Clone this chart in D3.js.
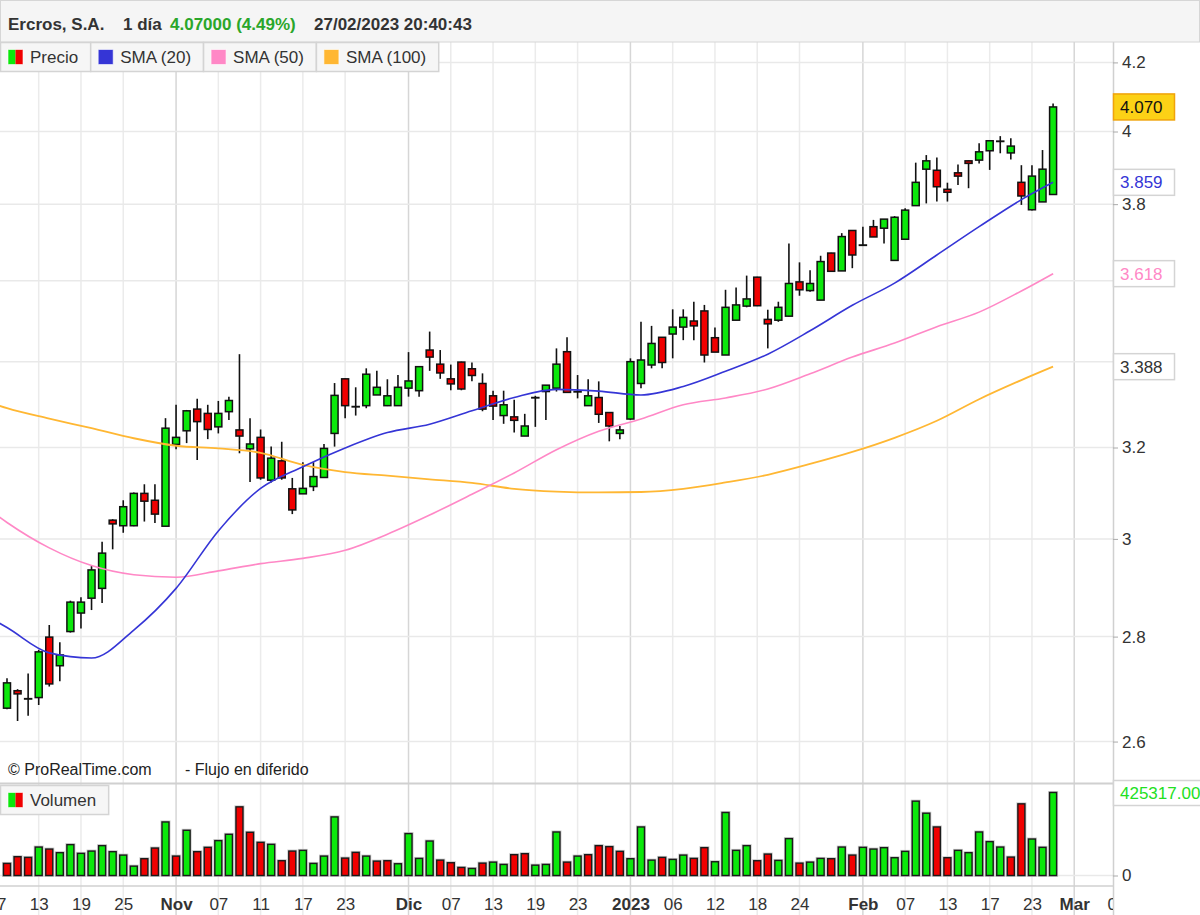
<!DOCTYPE html>
<html>
<head>
<meta charset="utf-8">
<script src="https://cdn.jsdelivr.net/npm/d3@7"></script>
<style>
  body { margin: 0; background: #fff; }
  svg { display: block; font-family: "Liberation Sans", Arial, sans-serif; }
</style>
</head>
<body>
<div id="chart"></div>
<script>
// trading days shown (Oct 10 2022 -> Feb 27 2023)
const dates = [
  "2022-10-10","2022-10-11","2022-10-12","2022-10-13","2022-10-14","2022-10-17","2022-10-18","2022-10-19","2022-10-20","2022-10-21",
  "2022-10-24","2022-10-25","2022-10-26","2022-10-27","2022-10-28","2022-10-31","2022-11-01","2022-11-02","2022-11-03","2022-11-04",
  "2022-11-07","2022-11-08","2022-11-09","2022-11-10","2022-11-11","2022-11-14","2022-11-15","2022-11-16","2022-11-17","2022-11-18",
  "2022-11-21","2022-11-22","2022-11-23","2022-11-24","2022-11-25","2022-11-28","2022-11-29","2022-11-30","2022-12-01","2022-12-02",
  "2022-12-05","2022-12-06","2022-12-07","2022-12-08","2022-12-09","2022-12-12","2022-12-13","2022-12-14","2022-12-15","2022-12-16",
  "2022-12-19","2022-12-20","2022-12-21","2022-12-22","2022-12-23","2022-12-27","2022-12-28","2022-12-29","2022-12-30","2023-01-02",
  "2023-01-03","2023-01-04","2023-01-05","2023-01-06","2023-01-09","2023-01-10","2023-01-11","2023-01-12","2023-01-13","2023-01-16",
  "2023-01-17","2023-01-18","2023-01-19","2023-01-20","2023-01-23","2023-01-24","2023-01-25","2023-01-26","2023-01-27","2023-01-30",
  "2023-01-31","2023-02-01","2023-02-02","2023-02-03","2023-02-06","2023-02-07","2023-02-08","2023-02-09","2023-02-10","2023-02-13",
  "2023-02-14","2023-02-15","2023-02-16","2023-02-17","2023-02-20","2023-02-21","2023-02-22","2023-02-23","2023-02-24","2023-02-27"
];

const open = [
  2.662,2.695,2.680,2.682,2.799,2.743,2.810,2.847,2.877,2.897,
  3.040,3.028,3.028,3.098,3.083,3.027,3.207,3.238,3.288,3.278,
  3.247,3.282,3.240,3.197,3.223,3.127,3.170,3.108,3.097,3.113,
  3.133,3.232,3.359,3.294,3.296,3.321,3.296,3.296,3.337,3.331,
  3.428,3.394,3.359,3.399,3.383,3.348,3.319,3.273,3.270,3.226,
  3.315,3.329,3.337,3.424,3.329,3.296,3.315,3.280,3.232,3.265,
  3.348,3.392,3.459,3.467,3.484,3.499,3.524,3.458,3.416,3.501,
  3.536,3.609,3.503,3.501,3.511,3.597,3.575,3.551,3.671,3.625,
  3.730,3.692,3.740,3.736,3.652,3.707,3.796,3.895,3.892,3.840,
  3.885,3.918,3.920,3.946,3.973,3.940,3.859,3.785,3.806,3.826
];
const high = [
  2.719,2.698,2.728,2.774,2.823,2.789,2.872,2.879,2.943,2.994,
  3.042,3.083,3.100,3.118,3.118,3.267,3.298,3.286,3.312,3.298,
  3.307,3.317,3.418,3.267,3.241,3.202,3.213,3.132,3.167,3.167,
  3.208,3.349,3.360,3.339,3.384,3.378,3.358,3.368,3.423,3.388,
  3.473,3.428,3.393,3.400,3.398,3.372,3.331,3.331,3.310,3.277,
  3.319,3.344,3.432,3.459,3.368,3.358,3.353,3.281,3.249,3.408,
  3.497,3.487,3.460,3.528,3.528,3.547,3.539,3.483,3.577,3.583,
  3.613,3.610,3.527,3.547,3.696,3.647,3.627,3.664,3.672,3.723,
  3.731,3.740,3.758,3.760,3.768,3.789,3.913,3.934,3.927,3.858,
  3.908,3.919,3.967,3.976,3.987,3.981,3.906,3.906,3.948,4.080
];
const low = [
  2.660,2.638,2.648,2.668,2.703,2.713,2.808,2.816,2.853,2.867,
  2.978,3.013,3.027,3.037,3.034,3.027,3.196,3.210,3.172,3.219,
  3.232,3.263,3.187,3.123,3.128,3.122,3.128,3.053,3.097,3.103,
  3.132,3.202,3.267,3.273,3.290,3.321,3.295,3.295,3.317,3.317,
  3.378,3.359,3.332,3.332,3.353,3.283,3.263,3.254,3.234,3.226,
  3.247,3.263,3.329,3.327,3.313,3.295,3.256,3.214,3.219,3.263,
  3.337,3.384,3.384,3.408,3.452,3.452,3.398,3.423,3.416,3.501,
  3.533,3.536,3.432,3.497,3.510,3.562,3.572,3.551,3.622,3.625,
  3.632,3.692,3.713,3.696,3.652,3.707,3.796,3.802,3.807,3.807,
  3.852,3.843,3.911,3.893,3.939,3.922,3.798,3.783,3.806,3.826
];
const close = [
  2.710,2.689,2.680,2.770,2.708,2.764,2.869,2.869,2.935,2.970,
  3.032,3.069,3.098,3.081,3.053,3.244,3.223,3.284,3.259,3.241,
  3.278,3.308,3.226,3.208,3.132,3.176,3.132,3.062,3.109,3.135,
  3.198,3.320,3.296,3.294,3.370,3.339,3.319,3.339,3.354,3.388,
  3.411,3.373,3.347,3.335,3.367,3.288,3.295,3.298,3.262,3.249,
  3.315,3.344,3.394,3.327,3.329,3.319,3.276,3.249,3.240,3.400,
  3.404,3.444,3.398,3.484,3.508,3.487,3.416,3.423,3.533,3.539,
  3.554,3.537,3.492,3.533,3.593,3.577,3.593,3.649,3.624,3.714,
  3.666,3.692,3.713,3.760,3.765,3.784,3.859,3.918,3.847,3.832,
  3.876,3.911,3.943,3.974,3.973,3.959,3.822,3.876,3.895,4.070
];

const volume = [
  61800,96300,92700,145700,135400,116900,158100,113300,125100,152900,
  122000,104500,47900,86000,140600,274400,99400,231700,122000,144200,
  178700,211100,351700,221400,169900,159600,75700,125100,128700,61800,
  99400,300200,89100,118400,99400,73600,75700,60200,214700,87500,
  176600,78800,65400,41200,36000,63300,68500,56600,106600,111700,
  53000,56600,223000,68500,99400,106600,152900,147800,123600,86000,
  248700,78800,92700,82400,104500,87500,142600,70500,322800,128700,
  152900,75700,109700,77200,189000,63300,68500,87500,86000,145700,
  104500,144200,135400,142600,91100,123600,381000,319200,248700,91100,
  128700,116900,223000,173500,145700,94200,367100,186900,144200,425317
];
// volume bar colour (u = green, d = red)
const volDir = [
  "d","d","d","u","d","u","u","u","u","u",
  "u","u","u","d","d","u","d","u","d","d",
  "u","u","d","d","d","u","d","d","u","u",
  "u","u","d","d","u","d","d","u","u","u",
  "u","d","d","d","u","d","u","u","d","d",
  "u","u","u","d","u","d","d","d","d","u",
  "u","u","d","u","u","d","d","u","u","u",
  "u","d","d","u","u","d","u","u","d","u",
  "d","u","u","u","u","u","u","u","d","d",
  "u","u","u","u","u","d","d","u","u","u"
];

// moving averages at these day indices
const smaIdx = [-1,0,4,8,12,16,20,24,28,32,36,40,44,48,52,56,60,64,68,72,76,80,84,88,92,96,99];
const sma20  = [2.830,2.818,2.768,2.758,2.813,2.897,3.017,3.109,3.157,3.199,3.234,3.253,3.284,3.315,3.334,3.330,3.321,3.341,3.377,3.418,3.475,3.538,3.594,3.666,3.740,3.812,3.859];
const sma50  = [3.051,3.035,2.981,2.944,2.925,2.920,2.933,2.948,2.959,2.976,3.010,3.051,3.096,3.143,3.195,3.237,3.265,3.298,3.314,3.335,3.371,3.411,3.445,3.485,3.521,3.574,3.618];
const sma100 = [3.298,3.290,3.266,3.244,3.221,3.204,3.198,3.188,3.161,3.145,3.137,3.129,3.121,3.108,3.102,3.100,3.101,3.108,3.122,3.139,3.163,3.190,3.222,3.261,3.311,3.356,3.388];

// x axis ticks (day index, label)
const tickIdx    = [-1,3,7,11,16,20,24,28,32,38,42,46,50,54,59,63,67,71,75,81,85,89,93,97,101,105];
const tickLabels = ["07","13","19","25","Nov","07","11","17","23","Dic","07","13","19","23","2023","06","12","18","24","Feb","07","13","17","23","Mar","07"];
const monthLabels = ["Nov","Dic","2023","Feb","Mar"];

const priceTicks = [2.6,2.8,3.0,3.2,3.4,3.6,3.8,4.0,4.2];
const legendNames = ["Precio","SMA (20)","SMA (50)","SMA (100)"];
const lastValues = [4.070, 3.859, 3.618, 3.388];

const GREEN = "#0be80b", RED = "#f00000";
const C20 = "#3535d6", C50 = "#ff88c6", C100 = "#ffb733";

const width = 1200, height = 915;
const plotR = 1113, pTop = 42, pBot = 783, vTop = 784, vBot = 886;

const x = d3.scaleLinear().domain([-0.6625, 104.67]).range([0, plotR]);
const y = d3.scaleLog().domain([2.525, 4.261]).range([pBot, pTop]);
const yv = d3.scaleLinear().domain([0, d3.max(volume)]).range([875.5, 792.5]);

const svg = d3.select("#chart").append("svg")
  .attr("width", width)
  .attr("height", height);

svg.append("rect").attr("width", width).attr("height", height).attr("fill", "#fff");

const defs = svg.append("defs");
defs.append("clipPath").attr("id", "pclip")
  .append("rect").attr("x", 0).attr("y", pTop).attr("width", plotR).attr("height", pBot - pTop);
defs.append("clipPath").attr("id", "gclip")
  .append("rect").attr("x", 0).attr("y", 0).attr("width", plotR).attr("height", height);

// vertical grid
svg.append("g").attr("clip-path", "url(#gclip)")
  .selectAll("line").data(tickIdx).join("line")
  .attr("x1", d => x(d)).attr("x2", d => x(d))
  .attr("y1", pTop).attr("y2", height)
  .attr("stroke", (d, i) => monthLabels.includes(tickLabels[i]) ? "#d6d6d6" : "#ebebeb")
  .attr("stroke-width", 1.5);

// horizontal grid
svg.append("g").selectAll("line").data(priceTicks).join("line")
  .attr("x1", 0).attr("x2", plotR)
  .attr("y1", d => y(d)).attr("y2", d => y(d))
  .attr("stroke", "#e9e9e9").attr("stroke-width", 1.5);
svg.append("line").attr("x1", 0).attr("x2", plotR)
  .attr("y1", yv(0)).attr("y2", yv(0))
  .attr("stroke", "#e9e9e9").attr("stroke-width", 1.5);

// candles
const days = d3.range(dates.length);
const cg = svg.append("g").attr("clip-path", "url(#pclip)");
cg.selectAll("line.wick").data(days).join("line")
  .attr("class", "wick")
  .attr("x1", i => x(i)).attr("x2", i => x(i))
  .attr("y1", i => y(high[i])).attr("y2", i => y(low[i]))
  .attr("stroke", "#111").attr("stroke-width", 1.6);
cg.selectAll("rect.body").data(days).join("rect")
  .attr("class", "body")
  .attr("x", i => x(i) - 3.5)
  .attr("width", 7)
  .attr("y", i => Math.min(y(open[i]), y(close[i])))
  .attr("height", i => Math.max(0.4, Math.abs(y(open[i]) - y(close[i]))))
  .attr("fill", i => close[i] >= open[i] ? GREEN : RED)
  .attr("stroke", "#111").attr("stroke-width", 1.5);

// moving averages
const smaLine = d3.line()
  .x(d => x(d[0]))
  .y(d => y(d[1]))
  .curve(d3.curveMonotoneX);
[[sma100, C100, 1.8], [sma50, C50, 1.6], [sma20, C20, 1.6]].forEach(([vals, col, w]) => {
  cg.append("path")
    .datum(d3.zip(smaIdx, vals))
    .attr("fill", "none")
    .attr("stroke", col)
    .attr("stroke-width", w)
    .attr("d", smaLine);
});

// volume bars (light halo, then the bar)
const vg = svg.append("g");
vg.selectAll("rect.halo").data(days).join("rect")
  .attr("class", "halo")
  .attr("x", i => x(i) - 3.5)
  .attr("width", 7)
  .attr("y", i => yv(volume[i]))
  .attr("height", i => yv(0) - yv(volume[i]))
  .attr("fill", "none")
  .attr("stroke", "#c8c8c8").attr("stroke-width", 3);
vg.selectAll("rect.bar").data(days).join("rect")
  .attr("class", "bar")
  .attr("x", i => x(i) - 3.5)
  .attr("width", 7)
  .attr("y", i => yv(volume[i]))
  .attr("height", i => yv(0) - yv(volume[i]))
  .attr("fill", i => volDir[i] === "u" ? GREEN : RED)
  .attr("stroke", "#1a1a1a").attr("stroke-width", 1.4);

// panel borders
svg.append("line").attr("x1", 0).attr("x2", plotR).attr("y1", pBot + 0.5).attr("y2", pBot + 0.5)
  .attr("stroke", "#d0d0d0").attr("stroke-width", 2);
svg.append("line").attr("x1", 0).attr("x2", plotR).attr("y1", vBot).attr("y2", vBot)
  .attr("stroke", "#d0d0d0").attr("stroke-width", 1.5);
svg.append("rect").attr("x", plotR + 1).attr("y", pTop).attr("width", width - plotR).attr("height", height - pTop)
  .attr("fill", "#fff");
svg.append("line").attr("x1", plotR + 0.5).attr("x2", plotR + 0.5).attr("y1", pTop).attr("y2", height)
  .attr("stroke", "#d0d0d0").attr("stroke-width", 1.5);

// price axis (labels under the last-value boxes are not shown)
const coveredTick = v => lastValues.some(lv => Math.abs(y(lv) - y(v)) < 16);
const yAxis = svg.append("g")
  .attr("transform", `translate(${plotR},0)`)
  .call(d3.axisRight(y).tickValues(priceTicks)
    .tickFormat(v => coveredTick(v) ? "" : d3.format("~g")(v))
    .tickSize(5).tickPadding(4));
yAxis.select(".domain").remove();
yAxis.selectAll("line").attr("stroke", "#aaa");
yAxis.selectAll("text").attr("fill", "#333").attr("font-size", 17)
  .attr("font-family", "Liberation Sans, Arial, sans-serif");

// volume axis
const vAxis = svg.append("g")
  .attr("transform", `translate(${plotR},0)`)
  .call(d3.axisRight(yv).tickValues([0]).tickSize(5).tickPadding(4));
vAxis.select(".domain").remove();
vAxis.selectAll("line").attr("stroke", "#aaa");
vAxis.selectAll("text").attr("fill", "#333").attr("font-size", 17)
  .attr("font-family", "Liberation Sans, Arial, sans-serif");

// date axis
const xAxis = svg.append("g")
  .attr("transform", `translate(0,${vBot})`)
  .attr("clip-path", "url(#gclip)")
  .call(d3.axisBottom(x).tickValues(tickIdx).tickFormat((d, i) => tickLabels[i]).tickSize(0).tickPadding(12));
xAxis.select(".domain").remove();
xAxis.selectAll("text")
  .attr("fill", "#333").attr("font-size", 17)
  .attr("font-family", "Liberation Sans, Arial, sans-serif")
  .attr("font-weight", (d, i) => monthLabels.includes(tickLabels[i]) ? "bold" : null);

// last value boxes on the price axis
const boxStyle = [
  { fill: "#fcd116", stroke: "#f0a30a", text: "#111" },
  { fill: "#fff", stroke: "#d4d4d4", text: C20 },
  { fill: "#fff", stroke: "#d4d4d4", text: C50 },
  { fill: "#fff", stroke: "#d4d4d4", text: "#333" }
];
const vb = svg.append("g").selectAll("g").data(lastValues).join("g")
  .attr("transform", d => `translate(${plotR},${y(d)})`);
vb.append("rect")
  .attr("x", 0.5).attr("y", -13).attr("width", 61).attr("height", 26)
  .attr("fill", (d, i) => boxStyle[i].fill)
  .attr("stroke", (d, i) => boxStyle[i].stroke).attr("stroke-width", 1.5);
vb.append("text")
  .attr("x", 7).attr("y", 6)
  .attr("font-size", 17)
  .attr("fill", (d, i) => boxStyle[i].text)
  .text(d => d3.format(".3f")(d));

// max volume box
const mv = svg.append("g").attr("transform", `translate(${plotR},${yv(d3.max(volume))})`);
mv.append("rect").attr("x", 0.5).attr("y", -12).attr("width", 100).attr("height", 25)
  .attr("fill", "#fff").attr("stroke", "#d4d4d4").attr("stroke-width", 1.5);
mv.append("text").attr("x", 7).attr("y", 6).attr("font-size", 17).attr("fill", "#22e022")
  .text(d3.format(".2f")(d3.max(volume)));

// header
svg.append("rect").attr("x", 0.5).attr("y", 0.5).attr("width", width - 1).attr("height", 41.5)
  .attr("fill", "#f5f5f5").attr("stroke", "#d6d6d6");
const header = svg.append("text").attr("x", 8).attr("y", 30)
  .attr("font-size", 17).attr("font-weight", "bold").attr("fill", "#333");
header.append("tspan").text("Ercros, S.A.");
header.append("tspan").attr("x", 123).text("1 día");
header.append("tspan").attr("x", 170).attr("fill", "#2aa62a").text("4.07000 (4.49%)");
header.append("tspan").attr("x", 314).text("27/02/2023 20:40:43");

// legends
function legendBox(g, name, colors, x0, y0) {
  const t = g.append("text").attr("x", x0 + 30).attr("y", y0 + 20.5)
    .attr("font-size", 17).attr("fill", "#333").text(name);
  const w = t.node().getComputedTextLength() + 42;
  g.insert("rect", "text").attr("x", x0 + 0.5).attr("y", y0 + 0.5).attr("width", w).attr("height", 29)
    .attr("fill", "#f6f6f6").attr("stroke", "#d4d4d4").attr("stroke-width", 1.5);
  colors.forEach((c, k) => {
    g.append("rect")
      .attr("x", x0 + 8 + k * 15 / colors.length).attr("y", y0 + 7.5)
      .attr("width", 15 / colors.length).attr("height", 15)
      .attr("fill", c);
  });
  g.append("rect").attr("x", x0 + 8).attr("y", y0 + 7.5).attr("width", 15).attr("height", 15)
    .attr("fill", "none").attr("stroke", "rgba(255,255,255,0.6)").attr("stroke-width", 1);
  return w;
}
const legendColors = [[GREEN, RED], [C20], [C50], [C100]];
let lx = 0;
legendNames.forEach((n, i) => {
  lx += legendBox(svg.append("g"), n, legendColors[i], lx, 42);
});
legendBox(svg.append("g"), "Volumen", [GREEN, RED], 0, 785);

// footer texts
svg.append("text").attr("x", 8).attr("y", 775).attr("font-size", 16).attr("fill", "#222")
  .text("© ProRealTime.com");
svg.append("text").attr("x", 185).attr("y", 775).attr("font-size", 16).attr("fill", "#222")
  .text("- Flujo en diferido");
</script>
</body>
</html>
